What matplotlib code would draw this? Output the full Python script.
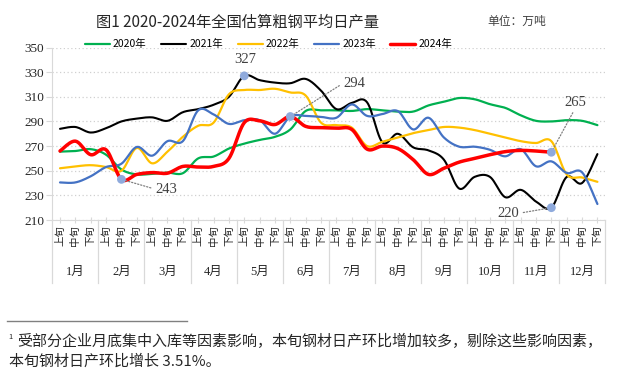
import numpy as np
import matplotlib
matplotlib.use('Agg')
import matplotlib.pyplot as plt

plt.rcParams['font.family'] = ['Noto Sans CJK SC', 'DejaVu Sans']

periods = ['上旬', '中旬', '下旬'] * 12
months = ['%d月' % m for m in range(1, 13)]

y2020 = [265.5, 266, 267.5, 263, 251, 247, 247.5, 248.5, 248, 260, 261.5, 268,
         272, 275, 277.5, 283.5, 298.5, 299, 299, 298.5, 300, 299, 298, 298,
         303, 306, 309, 308, 304, 301, 295, 290.5, 290, 291, 290.5, 287]
y2021 = [284, 285.5, 281, 284.5, 290, 292.3, 293.3, 290.5, 297.5, 300, 303.5, 310,
         327, 323.5, 321.5, 321, 324.5, 315, 300, 305, 305.5, 273, 280, 269,
         266.5, 259, 235.5, 245, 245, 228.5, 234.5, 225, 220, 245, 240, 263.5]
y2022 = [252, 253.5, 254.5, 253, 250, 268.5, 256, 265.5, 277.5, 286.5, 289, 312,
         315.5, 315.5, 316.5, 313.5, 311, 289, 287, 285, 270, 273.5, 277, 280.5,
         283, 285.5, 285, 283, 280, 277, 274, 272.5, 274, 247, 244.5, 241]
y2023 = [240.5, 240.5, 245.5, 253, 255.7, 269.3, 262.2, 274, 274, 299, 295.7, 288,
         291, 291, 280, 294, 294.5, 293.7, 293, 303.8, 294.5, 296, 298.4, 283.5,
         293, 277, 269.5, 269.5, 267, 261.7, 267.5, 253.6, 257.6, 248.2, 248.7, 223]
y2024 = [266, 274, 263, 267, 243, 247, 248.5, 248, 253.5, 253, 253.5, 260,
         289, 290.5, 287.5, 294, 286, 285, 284.5, 283.5, 267.5, 270, 268, 259,
         247, 252, 257, 260, 263, 265.5, 266.5, 266, 265]

series = [('2020年', y2020, '#00B050', 1.6),
          ('2021年', y2021, '#000000', 1.5),
          ('2022年', y2022, '#FFC000', 1.6),
          ('2023年', y2023, '#4472C4', 1.6),
          ('2024年', y2024, '#FF0000', 2.5)]

# labelled points: (series values, period index, text offset in points, leader relpos)
marks = [(y2024, 4, (32, -7), (0, 0.5)),
         (y2021, 12, (1, 12), None),
         (y2024, 15, (46, 24), (0, 0.5)),
         (y2024, 32, (17, 36), (0.5, 0)),
         (y2021, 32, (-31, -4), (1, 0.5))]


def smooth(y, n=12):
    # excel style smoothed line (bezier through the points)
    y = np.asarray(y, float)
    p = np.column_stack([np.arange(len(y), dtype=float), y])
    pp = np.vstack([p[0], p, p[-1]])
    t = np.linspace(0, 1, n, endpoint=False)[:, None]
    out = []
    for i in range(len(p) - 1):
        p0, p1, p2, p3 = pp[i], pp[i + 1], pp[i + 2], pp[i + 3]
        c1 = p1 + (p2 - p0) / 6
        c2 = p2 - (p3 - p1) / 6
        out.append((1 - t) ** 3 * p1 + 3 * (1 - t) ** 2 * t * c1
                   + 3 * (1 - t) * t ** 2 * c2 + t ** 3 * p2)
    out.append(p[-1:])
    out = np.vstack(out)
    return out[:, 0], out[:, 1]


fig = plt.figure(figsize=(6.26, 3.77), dpi=100)
ax = fig.add_axes([0.0836, 0.4164, 0.883, 0.4576])

for name, vals, col, lw in series:
    xs, ys = smooth(vals)
    ax.plot(xs, ys, color=col, lw=lw, label=name, solid_capstyle='round')

for vals, i, off, rel in marks:
    ax.scatter([i], [vals[i]], s=40, color='#8FAADC', zorder=5, edgecolors='none')
    kw = {}
    if rel is not None:
        kw['arrowprops'] = dict(arrowstyle='-', linestyle=(0, (1, 1.5)), color='#7F7F7F',
                                lw=0.9, relpos=rel, shrinkA=1, shrinkB=3)
    ax.annotate('%d' % round(vals[i]), xy=(i, vals[i]), xytext=off,
                textcoords='offset points', ha='center', va='center',
                fontsize=10.5, family='Liberation Serif', color='#404040', **kw)

ax.set_xlim(-0.5, 35.5)
ax.set_ylim(210, 350)
ax.set_yticks(range(210, 351, 20))
ax.yaxis.grid(True, color='#D0D0D0', linestyle=(0, (1, 2)), lw=0.9)
ax.set_axisbelow(True)
for s in ['top', 'right']:
    ax.spines[s].set_visible(False)
for s in ['left', 'bottom']:
    ax.spines[s].set_color('#D9D9D9')
ax.tick_params(axis='y', colors='#D9D9D9', labelcolor='#262626', length=4, pad=2)
for lab in ax.get_yticklabels():
    lab.set_family('Liberation Serif')
    lab.set_fontsize(9.5)

ax.set_xticks(range(36))
ax.set_xticklabels(periods, rotation=90, fontsize=7.5, color='#262626')
ax.tick_params(axis='x', colors='#D9D9D9', labelcolor='#262626', direction='inout',
               length=4, pad=2)

# month separators and month names
trans = ax.get_xaxis_transform()
for k in range(13):
    ax.plot([k * 3 - 0.5] * 2, [0, -0.365], transform=trans, color='#D9D9D9',
            lw=0.9, clip_on=False)
for k, m in enumerate(months):
    ax.text(k * 3 + 1, -0.30, m, transform=trans, ha='center', va='center',
            fontsize=9, color='#262626', family=['Liberation Serif', 'Noto Sans CJK SC'])

leg = ax.legend(loc='center', bbox_to_anchor=(0.429, 0.883), bbox_transform=fig.transFigure,
                ncol=5, frameon=False, fontsize=7.5, handlelength=2.4, handletextpad=0.3,
                columnspacing=1.4)
for txt in leg.get_texts():
    txt.set_fontweight('medium')

fig.text(0.379, 0.942, '图1 2020-2024年全国估算粗钢平均日产量', ha='center', va='center',
         fontsize=11, fontweight='medium', color='#262626')
fig.text(0.825, 0.942, '单位：万吨', ha='center', va='center', fontsize=8.5,
         color='#404040')

# footnote
fig.add_artist(plt.Line2D([0.011, 0.299], [0.149, 0.149], color='#808080', lw=1))
fig.text(0.013, 0.105, '1', fontsize=5.5, ha='left', va='center', color='#262626')
fig.text(0.027, 0.0936, '受部分企业月底集中入库等因素影响，本旬钢材日产环比增加较多，剔除这些影响因素，',
         fontsize=10.8, ha='left', va='center', color='#262626')
fig.text(0.014, 0.0406, '本旬钢材日产环比增长 3.51%。', fontsize=10.8, ha='left', va='center',
         color='#262626')

fig.savefig('out.png', dpi=100)
